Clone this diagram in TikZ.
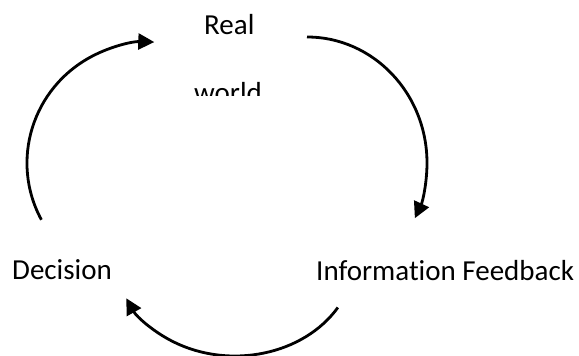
\documentclass[tikz,border=0pt]{standalone}
\usepackage{fontspec}
\setmainfont[Ligatures=NoCommon]{Carlito}
\usetikzlibrary{arrows.meta,calc}
\begin{document}
\begin{tikzpicture}[x=1pt,y=1pt,
  label/.style={inner sep=0pt,anchor=base west,font=\fontsize{29}{35}\selectfont},
  loop/.style={line width=2.8pt,-{Triangle[length=16pt,width=16pt]}}]
\useasboundingbox (0,0) rectangle (579,356);
% stage labels
\node[label] (real) at (204,321) {Real};
\begin{scope}
  \clip (150,260) rectangle (320,300);
  \node[label] (world) at (194,253) {world};
\end{scope}
\node[label] (decision) at (12,76) {Decision};
\node[label] (info) at (316,75) {Information Feedback};
% start points of the cycle arcs
\coordinate (toprightstart) at (307,319);
\coordinate (leftstart) at ($(150,193)+(208:123 and 121)$);
\coordinate (bottomstart) at ($(235,100)+(-31:120 and 100)$);
% the three arrows of the cycle
\draw[loop] (toprightstart) arc[start angle=90,end angle=-26,x radius=120,y radius=126];
\draw[loop] (bottomstart) arc[start angle=-31,end angle=-155,x radius=120,y radius=100];
\draw[loop] (leftstart) arc[start angle=208,end angle=88,x radius=123,y radius=121];
\end{tikzpicture}
\end{document}
